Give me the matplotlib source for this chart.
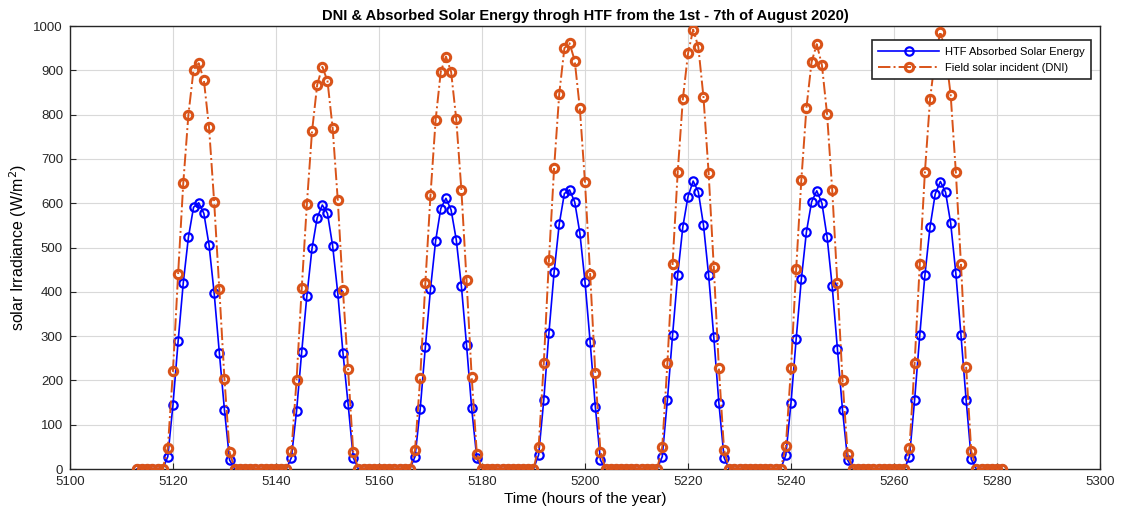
import numpy as np
import matplotlib
matplotlib.use("Agg")
import matplotlib.pyplot as plt

# Day-time values (hours 19..31 of each day offset), 7 days
htf_days = [
    [28, 145, 288, 420, 523, 591, 601, 577, 506, 397, 263, 133, 20],
    [26, 131, 265, 391, 498, 567, 596, 577, 504, 397, 263, 147, 26],
    [28, 135, 275, 406, 515, 588, 611, 585, 518, 413, 280, 137, 24],
    [32, 156, 308, 444, 553, 622, 630, 603, 533, 423, 287, 141, 20],
    [28, 156, 302, 438, 547, 615, 650, 626, 551, 438, 299, 148, 26],
    [32, 150, 293, 428, 536, 603, 628, 600, 524, 412, 272, 133, 20],
    [28, 156, 302, 438, 547, 621, 649, 625, 555, 442, 302, 156, 22],
]
dni_days = [
    [47, 222, 440, 645, 800, 901, 916, 878, 772, 603, 406, 203, 38],
    [41, 201, 408, 598, 762, 867, 908, 876, 770, 607, 404, 226, 38],
    [43, 205, 419, 618, 788, 897, 931, 897, 790, 630, 427, 208, 35],
    [50, 239, 472, 679, 847, 950, 961, 922, 814, 647, 440, 217, 39],
    [50, 239, 462, 670, 835, 938, 992, 953, 840, 669, 457, 227, 43],
    [52, 229, 451, 652, 816, 919, 959, 912, 801, 630, 419, 201, 34],
    [47, 239, 462, 671, 835, 930, 987, 940, 844, 671, 462, 231, 40],
]
first_hour = 5113
last_hour = 5281
day_start_hours = [5119, 5143, 5167, 5191, 5215, 5239, 5263]

hours = np.arange(first_hour, last_hour + 1)
htf = np.zeros(len(hours))
dni = np.zeros(len(hours))
for start, hv, dv in zip(day_start_hours, htf_days, dni_days):
    idx = start - first_hour
    htf[idx:idx + len(hv)] = hv
    dni[idx:idx + len(dv)] = dv

xticks = np.arange(5100, 5301, 20)
yticks = np.arange(0, 1001, 100)

plt.rcParams['font.family'] = ['Liberation Sans', 'DejaVu Sans']
fig = plt.figure(figsize=(11.21, 5.17), dpi=100)
ax = fig.add_axes([0.0624, 0.0928, 0.9189, 0.8569])

orange = (0.85, 0.325, 0.098)
ax.plot(hours, htf, '-o', color='blue', lw=1.2, ms=6, mfc='none', mew=1.6,
        label='HTF Absorbed Solar Energy', zorder=3)
ax.plot(hours, dni, '-.o', color=orange, lw=1.4, ms=6, mfc='none', mew=2.2,
        label='Field solar incident (DNI)', zorder=4)

ax.set_xlim(5100, 5300)
ax.set_ylim(0, 1000)
ax.set_xticks(xticks)
ax.set_yticks(yticks)
ax.tick_params(labelsize=9.5, colors='#262626', direction='in', length=4, pad=5)
ax.grid(True, color='#d9d9d9', lw=0.8)
ax.set_axisbelow(True)
for s in ax.spines.values():
    s.set_color('#262626')
    s.set_linewidth(1.0)

ax.set_title('DNI & Absorbed Solar Energy throgh HTF from the 1st - 7th of August 2020)',
             fontsize=10.5, fontweight='bold', pad=4)
ax.set_xlabel('Time (hours of the year)', fontsize=11, labelpad=3)
ax.set_ylabel('solar Irradiance (W/m$^2$)', fontsize=11.5, labelpad=3)

leg = ax.legend(loc='upper right', bbox_to_anchor=(0.997, 0.98), fontsize=8,
                frameon=True, fancybox=False, edgecolor='#262626', framealpha=1,
                handlelength=5.5, handletextpad=0.5, borderpad=0.6, labelspacing=0.5)
leg.get_frame().set_linewidth(1.2)
leg.set_zorder(10)

fig.savefig('out.png', dpi=100)
